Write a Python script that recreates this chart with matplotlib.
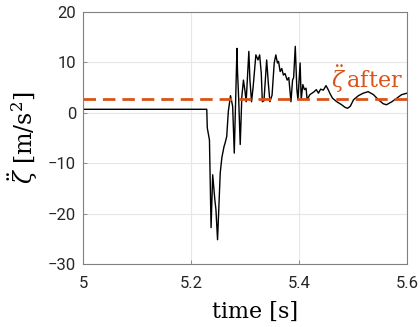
import numpy as np
import matplotlib
matplotlib.use('Agg')
import matplotlib.pyplot as plt

# signal
t = [5.0, 5.10, 5.229, 5.230, 5.234, 5.237, 5.240, 5.244, 5.246, 5.249, 5.254,
     5.257, 5.261, 5.263, 5.266, 5.269, 5.273, 5.277, 5.280, 5.285, 5.286,
     5.288, 5.291, 5.294, 5.297, 5.300, 5.302, 5.307, 5.309, 5.312, 5.315,
     5.320, 5.324, 5.327, 5.330, 5.332, 5.335, 5.340, 5.343, 5.346, 5.350,
     5.354, 5.357, 5.360, 5.362, 5.365, 5.368, 5.371, 5.374, 5.378, 5.381,
     5.385, 5.388, 5.390, 5.393, 5.396, 5.398, 5.402, 5.404, 5.407, 5.410,
     5.413, 5.415, 5.420, 5.424, 5.428, 5.432, 5.436, 5.440, 5.445, 5.450,
     5.454, 5.457, 5.462, 5.470, 5.479, 5.485, 5.490, 5.495, 5.501, 5.510,
     5.519, 5.528, 5.538, 5.547, 5.556, 5.562, 5.572, 5.581, 5.590, 5.600]
acc = [0.7, 0.7, 0.7, -3.0, -5.4, -22.8, -12.3, -17.3, -19.2, -25.2, -11.9,
       -8.9, -6.7, -6.0, -4.7, 0.3, 3.4, 1.3, -8.0, 12.8, 8.2,
       3.2, -6.3, 3.2, 6.5, 4.2, 2.2, 12.2, 6.5, 2.2, 5.2,
       11.5, 10.5, 11.5, 7.9, 2.2, 2.4, 10.5, 6.0, 2.2, 3.5,
       9.9, 11.5, 9.9, 10.2, 8.2, 8.8, 7.5, 7.8, 6.5, 7.0,
       2.2, 6.5, 7.0, 13.2, 4.6, 2.6, 9.9, 2.6, 5.6, 4.6,
       4.9, 2.6, 3.6, 3.9, 4.2, 4.6, 3.9, 4.7, 4.5, 5.4,
       4.6, 3.9, 2.9, 2.2, 1.6, 1.1, 0.9, 1.3, 2.6, 3.4,
       3.9, 4.2, 3.6, 2.6, 1.8, 1.6, 2.2, 2.9, 3.6, 3.9]
acc_after = 2.8

xticks = [5.0, 5.2, 5.4, 5.6]
xticklabels = ['5', '5.2', '5.4', '5.6']
yticks = [-30, -20, -10, 0, 10, 20]

orange = '#D95319'
plt.rcParams['mathtext.fontset'] = 'dejavuserif'

fig = plt.figure(figsize=(4.2, 3.27), dpi=100)
ax = fig.add_axes([0.198, 0.193, 0.771, 0.770])

ax.plot(t, acc, color='black', lw=1.0)
ax.axhline(acc_after, color=orange, lw=2.0, dashes=(4.5, 2.5))
ax.text(5.460, 5.0, r'$\ddot{\zeta}\,\mathrm{after}$', color=orange,
        fontsize=16)

ax.set_xlim(5.0, 5.6)
ax.set_ylim(-30, 20)
ax.set_xticks(xticks)
ax.set_xticklabels(xticklabels)
ax.set_yticks(yticks)
ax.grid(True, color='#e6e6e6', lw=0.8)
ax.set_axisbelow(True)
ax.tick_params(direction='in', length=3, width=0.6, color='#808080',
               labelsize=12, labelcolor='#262626')
ax.tick_params(axis='x', pad=9)
ax.tick_params(axis='y', pad=5)
for lab in ax.get_xticklabels() + ax.get_yticklabels():
    lab.set_fontfamily('Roboto')
for s in ax.spines.values():
    s.set_color('#808080')
    s.set_linewidth(0.8)

ax.set_xlabel('time [s]', fontsize=16, fontfamily='DejaVu Serif', labelpad=4)
ax.xaxis.set_label_coords(0.53, -0.145, transform=ax.transAxes)
ax.xaxis.label.set_va('top')
ax.set_ylabel(r'$\ddot{\zeta}$ [m/s$^2$]', fontsize=17,
              fontfamily='DejaVu Serif', labelpad=6)

fig.savefig('out.png', dpi=100)
